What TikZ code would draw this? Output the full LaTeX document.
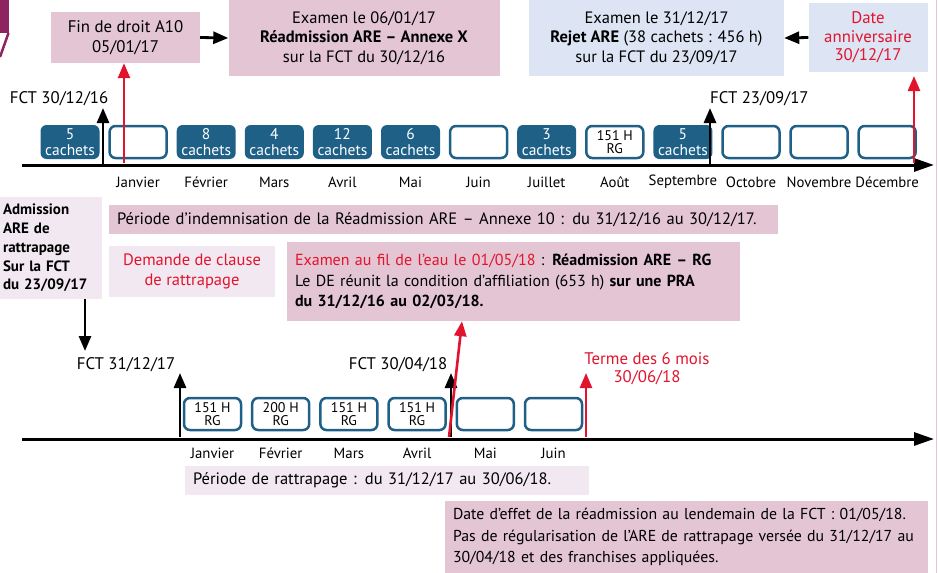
\documentclass[tikz,border=0pt]{standalone}
\usepackage{fontspec}
\setmainfont{PT Sans}
\usetikzlibrary{arrows.meta}
\definecolor{pinkc}{HTML}{E3C5D4}
\definecolor{lpink}{HTML}{F1E8F1}
\definecolor{lblue}{HTML}{DDE4F3}
\definecolor{dblue}{HTML}{1F6087}
\definecolor{redc}{HTML}{E2142D}
\definecolor{purp}{HTML}{8E2360}
\newcommand{\fsz}[2]{\fontsize{#1}{#2}\selectfont}
\begin{document}
\begin{tikzpicture}[x=1pt,y=-1pt,
  pbox/.style={fill=pinkc, draw=none, inner sep=0pt, align=center, font=\fsz{16.5}{19.5}},
  bbox/.style={fill=lblue, draw=none, inner sep=0pt, align=center, font=\fsz{16.5}{19.5}},
  lbox/.style={fill=lpink, draw=none, inner sep=0pt, align=center, font=\fsz{16.5}{19.5}},
  cach/.style={fill=dblue, text=white, rounded corners=6pt, minimum width=59pt, minimum height=34pt, inner sep=0pt, align=center, font=\fsz{15.5}{15.5}},
  emp/.style={draw=dblue, fill=white, line width=2.5pt, rounded corners=6pt, minimum width=57pt, minimum height=32pt, inner sep=0pt, align=center, font=\fsz{14}{13.8}},
  mon/.style={font=\fsz{14.8}{15}, inner sep=0pt},
  lab/.style={font=\fsz{16.8}{18}, inner sep=0pt},
  tl/.style={line width=3pt, -{Triangle[length=20pt,width=13pt]}},
  barr/.style={line width=2.8pt, -{Triangle[length=15pt,width=12pt]}},
  rarr/.style={draw=redc, line width=2.6pt, -{Triangle[length=15pt,width=12pt]}}
]
\useasboundingbox (0,0) rectangle (938,573);
% decorations
\fill[purp] (0,0) rectangle (9,33);
\draw[purp, line width=2.5pt] (8.5,33) -- (0,57);
\draw[pinkc, line width=1pt] (936.5,0) -- (936.5,573);

% top boxes
\node[pbox, minimum width=149pt, minimum height=51pt, font=\fsz{16.8}{20.5}] (fin) at (125.5,37.5) {Fin de droit A10\\05/01/17};
\node[pbox, minimum width=271pt, minimum height=76pt] (exa) at (364,38) {Examen le 06/01/17\\\textbf{Réadmission ARE – Annexe X}\\sur la FCT du 30/12/16};
\node[bbox, minimum width=255pt, minimum height=76pt] (rej) at (656.5,38) {Examen le 31/12/17\\\textbf{Rejet ARE} (38 cachets : 456 h)\\sur la FCT du 23/09/17};
\node[bbox, minimum width=119pt, minimum height=69pt, text=redc, font=\fsz{16.8}{18.5}] (anni) at (868,37.5) {Date\\anniversaire\\30/12/17};
\draw[barr] (fin.east) -- (exa.west);
\draw[barr] (anni.west) -- (rej.east);

% timeline 1
\coordinate (t1s) at (22,165);
\coordinate (t1e) at (934,165);
\draw[tl] (t1s) -- (t1e);
\node[cach] (m0) at (70,142) {5\\cachets};
\node[emp] (m1) at (138.1,142) {};
\node[cach] (m2) at (206.2,142) {8\\cachets};
\node[cach] (m3) at (274.3,142) {4\\cachets};
\node[cach] (m4) at (342.4,142) {12\\cachets};
\node[cach] (m5) at (410.5,142) {6\\cachets};
\node[emp] (m6) at (478.6,142) {};
\node[cach] (m7) at (546.7,142) {3\\cachets};
\node[emp] (m8) at (614.8,142) {151 H\\RG};
\node[cach] (m9) at (682.9,142) {5\\cachets};
\node[emp] (m10) at (751,142) {};
\node[emp] (m11) at (819.1,142) {};
\node[emp] (m12) at (887.2,142) {};
\foreach \n/\t in {1/Janvier,2/Février,3/Mars,4/Avril,5/Mai,6/Juin,7/Juillet,8/Août,9/Septembre,10/Octobre,11/Novembre,12/Décembre}
  \node[mon] (ml\n) at (m\n |- 0,182) {\t};

\coordinate (f1b) at (103,164);
\coordinate (f1t) at (103,108);
\draw[barr] (f1b) -- (f1t);
\node[lab, anchor=east] (f1l) at (108.5,99) {FCT 30/12/16};
\coordinate (r1b) at (124,163);
\draw[rarr] (r1b) -- (r1b |- fin.south);
\coordinate (f2b) at (710,164);
\coordinate (f2t) at (710,108);
\draw[barr] (f2b) -- (f2t);
\node[lab, anchor=west] (f2l) at (710,99) {FCT 23/09/17};
\coordinate (r2b) at (914,163);
\coordinate (r2t) at (914,76);
\draw[rarr] (r2b) -- (r2t);

% middle boxes
\node[lbox, minimum width=102pt, minimum height=102pt, text width=96pt, align=left, font=\fsz{15}{18.8}\bfseries] (adm) at (51,248) {Admission\\ARE de\\rattrapage\\Sur la FCT\\du 23/09/17};
\node[pbox, minimum width=669pt, minimum height=29pt, text width=653pt, align=left] (per) at (443.5,219.5) {Période d’indemnisation de la Réadmission ARE – Annexe 10 : du 31/12/16 au 30/12/17.};
\node[lbox, minimum width=166pt, minimum height=51pt, text=redc] (dem) at (192,271.5) {Demande de clause\\de rattrapage};
\node[pbox, minimum width=453pt, minimum height=79pt, text width=437pt, align=left, font=\fsz{16}{20.5}] (fil) at (513.5,281.5) {{\color{redc}Examen au fil de l’eau le 01/05/18} : \textbf{Réadmission ARE – RG}\\Le DE réunit la condition d’affiliation (653 h) \textbf{sur une PRA}\\\textbf{du 31/12/16 au 02/03/18.}};
\coordinate (dd) at (85,351);
\draw[barr] (adm.south -| dd) -- (dd);

% timeline 2
\coordinate (t2s) at (22,439);
\coordinate (t2e) at (934,439);
\draw[tl] (t2s) -- (t2e);
\node[emp] (n1) at (212.5,414) {151 H\\RG};
\node[emp] (n2) at (280.7,414) {200 H\\RG};
\node[emp] (n3) at (348.9,414) {151 H\\RG};
\node[emp] (n4) at (417.1,414) {151 H\\RG};
\node[emp] (n5) at (485.3,414) {};
\node[emp] (n6) at (553.5,414) {};
\foreach \n/\t in {1/Janvier,2/Février,3/Mars,4/Avril,5/Mai,6/Juin}
  \node[mon] (nl\n) at (n\n |- 0,453) {\t};

\coordinate (g1b) at (180,437);
\coordinate (g1t) at (180,373);
\draw[barr] (g1b) -- (g1t);
\node[lab, anchor=east] (g1l) at (175.5,365) {FCT 31/12/17};
\coordinate (g2b) at (451,437);
\coordinate (g2t) at (451,373);
\draw[barr] (g2b) -- (g2t);
\node[lab, anchor=east] (g2l) at (447.5,365) {FCT 30/04/18};
\coordinate (rfb) at (449,437);
\draw[rarr] (rfb) -- (fil.south -| 462,0);
\coordinate (r3b) at (586,437);
\coordinate (r3t) at (586,373);
\draw[rarr] (r3b) -- (r3t);
\node[lab, text=redc, align=center, font=\fsz{16.8}{18}] (terme) at (647,368.5) {Terme des 6 mois\\30/06/18};

% bottom boxes
\node[lbox, minimum width=404pt, minimum height=29pt, text width=388pt, align=left] (rat) at (387,480.5) {Période de rattrapage : du 31/12/17 au 30/06/18.};
\node[pbox, minimum width=483pt, minimum height=73pt, text width=467pt, align=left, font=\fsz{15.8}{21.5}] (eff) at (686.5,537) {Date d’effet de la réadmission au lendemain de la FCT : 01/05/18.\\Pas de régularisation de l’ARE de rattrapage versée du 31/12/17 au\\30/04/18 et des franchises appliquées.};
\end{tikzpicture}
\end{document}
